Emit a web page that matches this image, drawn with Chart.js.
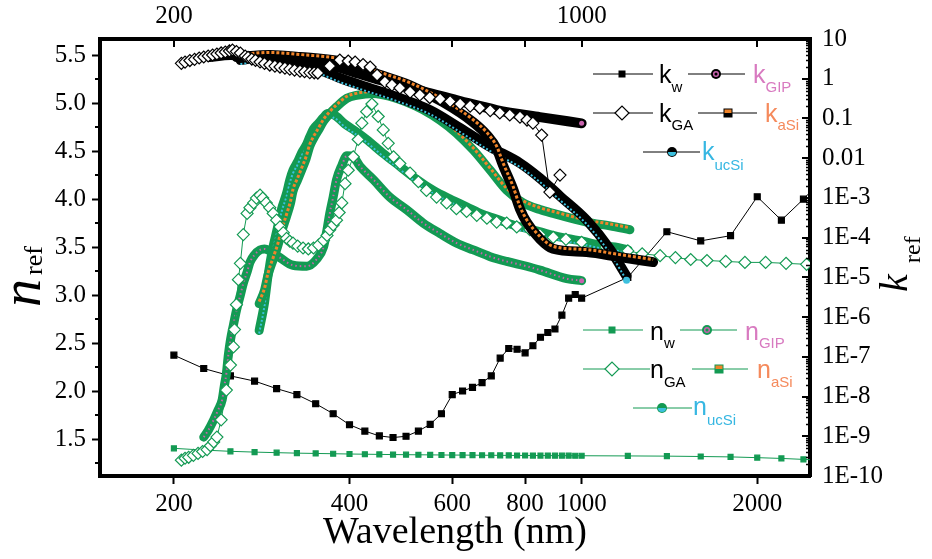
<!DOCTYPE html>
<html>
<head>
<meta charset="utf-8">
<script src="https://cdn.jsdelivr.net/npm/chart.js@4.4.1/dist/chart.umd.min.js"></script>
<style>
  html, body { margin: 0; padding: 0; background: #fff; }
</style>
</head>
<body>
<canvas id="chart" width="932" height="559"></canvas>
<script>
// refractive index n (left) and extinction coefficient k (right, log) vs wavelength

// water: tabulated every 25 nm up to 1000, then every 200 nm
const wlWater = [200, 225, 250, 275, 300, 325, 350, 375, 400, 425, 450, 475, 500, 525, 550, 575, 600,
  625, 650, 675, 700, 725, 750, 775, 800, 825, 850, 875, 900, 925, 950, 975, 1000,
  1200, 1400, 1600, 1800, 2000, 2200, 2400, 2500];
const nWater = [1.403, 1.385, 1.372, 1.364, 1.358, 1.353, 1.350, 1.347, 1.344, 1.342, 1.340, 1.338, 1.337,
  1.336, 1.335, 1.334, 1.333, 1.333, 1.332, 1.331, 1.331, 1.330, 1.330, 1.329, 1.329, 1.328, 1.328,
  1.328, 1.327, 1.327, 1.327, 1.326, 1.326, 1.324, 1.322, 1.318, 1.314, 1.306, 1.298, 1.288, 1.283];
const kWater = [1.10e-7, 5.07e-8, 3.31e-8, 2.45e-8, 1.58e-8, 1.12e-8, 6.6e-9, 3.7e-9, 1.95e-9, 1.35e-9,
  1.02e-9, 9.3e-10, 1.0e-9, 1.35e-9, 2.0e-9, 3.7e-9, 1.12e-8, 1.38e-8, 1.7e-8, 2.24e-8, 3.31e-8,
  9.3e-8, 1.62e-7, 1.55e-7, 1.26e-7, 1.9e-7, 3.1e-7, 4.1e-7, 5.0e-7, 1.12e-6, 3.0e-6, 3.7e-6, 3.0e-6,
  1.0e-5, 1.41e-4, 8.3e-5, 1.12e-4, 1.07e-3, 2.75e-4, 9.3e-4, 1.74e-3];

// glass (GA)
const wlGAn = [206, 209, 212, 216, 220, 224, 228, 231, 234, 237, 241, 246, 250, 253, 254, 256, 258, 260,
  263, 267, 270, 274, 277, 281, 284, 288, 292, 296, 300, 304, 308, 312, 316, 320, 326, 333, 340, 347,
  354, 361, 366, 370, 375, 380, 384, 388, 393, 398, 406, 414, 420, 428, 437, 448, 457, 466, 476, 488,
  508, 525, 542, 564, 587, 610, 635, 661, 688, 715, 744, 774, 815, 848, 894, 940, 1000, 1100, 1200,
  1270, 1363, 1448, 1538, 1640, 1766, 1905, 2067, 2241, 2430];
const nGA = [1.28, 1.30, 1.31, 1.33, 1.35, 1.37, 1.39, 1.43, 1.47, 1.52, 1.70, 2.01, 2.27, 2.46, 2.64,
  2.90, 3.16, 3.33, 3.63, 3.85, 3.91, 3.96, 4.01, 4.04, 4.01, 3.96, 3.91, 3.85, 3.78, 3.71, 3.65, 3.59,
  3.56, 3.54, 3.51, 3.49, 3.48, 3.49, 3.52, 3.57, 3.62, 3.68, 3.73, 3.78, 3.86, 3.96, 4.16, 4.30, 4.44,
  4.62, 4.79, 4.91, 4.99, 4.86, 4.72, 4.58, 4.44, 4.37, 4.27, 4.18, 4.09, 4.02, 3.96, 3.90, 3.87, 3.83,
  3.80, 3.76, 3.75, 3.71, 3.68, 3.63, 3.60, 3.58, 3.55, 3.50, 3.46, 3.43, 3.41, 3.39, 3.37, 3.36, 3.35,
  3.34, 3.34, 3.33, 3.32];
const wlGAk = [206, 209, 213, 217, 221, 225, 229, 233, 237, 241, 245, 249, 252, 256, 260, 265, 268, 272,
  276, 281, 286, 292, 298, 304, 310, 316, 322, 329, 335, 342, 348, 353, 370, 385, 398, 409, 422, 434,
  446, 460, 473, 488, 508, 528, 549, 572, 595, 619, 644, 669, 697, 724, 753, 784, 806, 825, 854, 882, 918];
const kGA = [2.44, 2.62, 2.87, 3.08, 3.32, 3.52, 3.73, 3.95, 4.19, 4.45, 4.71, 5.0, 5.28, 4.85, 4.44,
  3.73, 3.45, 3.13, 2.90, 2.64, 2.42, 2.21, 2.08, 1.97, 1.85, 1.75, 1.65, 1.56, 1.50, 1.43, 1.41, 1.39,
  2.09, 2.96, 2.79, 2.64, 2.28, 1.97, 1.24, 0.826, 0.693, 0.583, 0.462, 0.389, 0.336, 0.308, 0.267,
  0.231, 0.205, 0.183, 0.158, 0.137, 0.122, 0.108, 0.0912, 0.0766, 0.0382, 0.0014, 0.00375];

// GIP
const wlGIPn = [225, 229, 234, 238, 242, 244, 246, 248, 250, 253, 256, 260, 263, 267, 270, 275, 281, 286,
  292, 304, 320, 338, 351, 361, 366, 370, 375, 380, 388, 396, 406, 417, 440, 469, 501, 535, 572, 611,
  652, 697, 744, 805, 848, 943, 1000];
const nGIP = [1.52, 1.59, 1.70, 1.80, 1.91, 2.05, 2.18, 2.38, 2.53, 2.69, 2.84, 3.00, 3.12, 3.24, 3.34,
  3.42, 3.47, 3.48, 3.46, 3.39, 3.31, 3.30, 3.37, 3.50, 3.68, 3.85, 4.02, 4.20, 4.35, 4.45, 4.44, 4.34,
  4.20, 4.02, 3.89, 3.75, 3.64, 3.54, 3.47, 3.40, 3.35, 3.30, 3.26, 3.17, 3.15];
const wlGIPk = [230, 250, 277, 312, 356, 380, 417, 451, 498, 549, 619, 715, 848, 1000];
const kGIP = [3.52, 3.95, 3.52, 2.96, 2.48, 1.97, 1.31, 0.927, 0.618, 0.437, 0.274, 0.163, 0.108, 0.0753];

// amorphous Si
const wlASin = [280, 286, 290, 296, 301, 306, 312, 317, 320, 326, 331, 337, 342, 347, 354, 361, 370, 380,
  396, 411, 440, 469, 501, 535, 572, 609, 652, 697, 744, 794, 848, 894, 1020, 1118, 1210];
const nASi = [2.91, 3.05, 3.21, 3.37, 3.50, 3.66, 3.82, 3.96, 4.08, 4.20, 4.30, 4.42, 4.55, 4.63, 4.72,
  4.81, 4.89, 4.96, 5.05, 5.08, 5.10, 5.07, 5.01, 4.93, 4.82, 4.69, 4.51, 4.30, 4.09, 3.96, 3.89, 3.85,
  3.76, 3.72, 3.68];
const wlASik = [256, 292, 329, 390, 445, 508, 578, 651, 688, 715, 733, 763, 784, 805, 848, 893, 1020, 1163, 1326];
const kASi = [3.52, 3.95, 3.52, 2.64, 1.34, 0.682, 0.259, 0.0813, 0.0382, 0.0173, 0.0067, 0.00167,
  5.22e-4, 2.45e-4, 9.3e-5, 5.25e-5, 4.32e-5, 3.23e-5, 2.42e-5];

// microcrystalline Si
const wlUcSin = [280, 286, 290, 295, 301, 306, 312, 316, 320, 326, 331, 337, 342, 347, 354, 361, 367, 378,
  393, 409, 428, 456, 488, 520, 557, 595, 635, 677, 724, 772, 825, 882, 943, 1005, 1075, 1140, 1202];
const nUcSi = [2.63, 2.92, 3.20, 3.47, 3.70, 3.90, 4.06, 4.20, 4.30, 4.39, 4.48, 4.56, 4.65, 4.73, 4.79,
  4.85, 4.89, 4.87, 4.78, 4.71, 4.62, 4.48, 4.34, 4.21, 4.09, 4.00, 3.92, 3.84, 3.78, 3.72, 3.68, 3.63,
  3.59, 3.56, 3.52, 3.50, 3.47];
const wlUcSik = [260, 277, 312, 356, 385, 422, 482, 549, 619, 697, 784, 848, 918, 1020, 1118, 1194];
const kUcSi = [2.96, 3.32, 2.64, 1.66, 1.04, 0.655, 0.346, 0.163, 0.0573, 0.0191, 0.00753, 0.00316,
  0.00111, 2.76e-4, 5.13e-5, 1.07e-5];

// axes
const wlMin = 149.4;
const wlMax = 2463;
const wlTicks = [200, 400, 600, 800, 1000, 2000];
const wlTopLabels = [200, 1000];
const nTicks = [1.5, 2.0, 2.5, 3.0, 3.5, 4.0, 4.5, 5.0, 5.5];
const nMinorTicks = [1.25, 1.75, 2.25, 2.75, 3.25, 3.75, 4.25, 4.75, 5.25];
const kTicks = [1e-10, 1e-9, 1e-8, 1e-7, 1e-6, 1e-5, 1e-4, 1e-3, 0.01, 0.1, 1, 10];

const GREEN = '#139a53';
const ORANGE = '#f0842a';
const CYAN = '#3cc0de';
const PINK = '#c862ad';
const SERIF = '"Liberation Serif", "Times New Roman", serif';
const SANS = '"Liberation Sans", Arial, sans-serif';

const pts = (wl, vals) => wl.map((w, i) => ({ x: w, y: vals[i] }));

// thick line standing in for densely packed markers
function band(wl, vals, axis, color, width, order) {
  return {
    data: pts(wl, vals), yAxisID: axis, borderColor: color, borderWidth: width,
    pointRadius: 0, cubicInterpolationMode: 'monotone',
    borderCapStyle: 'round', borderJoinStyle: 'round', fill: false, order
  };
}

// coloured marker centres running along a band
function stripe(wl, vals, axis, color, width, dash, shiftY, order, endRadius) {
  const last = wl.length - 1;
  return {
    data: pts(wl, vals), yAxisID: axis, borderColor: color, borderWidth: width, borderDash: dash,
    cubicInterpolationMode: 'monotone', fill: false, order, shiftY,
    pointRadius: c => (c.dataIndex === last ? endRadius : 0),
    pointBackgroundColor: color, pointBorderColor: color, pointBorderWidth: 0
  };
}

function marked(wl, vals, axis, color, style, radius, fillColor, order) {
  return {
    data: pts(wl, vals), yAxisID: axis, borderColor: color, borderWidth: 1,
    pointStyle: style, pointRadius: radius, pointBackgroundColor: fillColor,
    pointBorderColor: color, pointBorderWidth: 1.2, tension: 0, fill: false, order
  };
}

const datasets = [
  marked(wlGAk, kGA, 'y2', '#000', 'rectRot', 6, '#fff', 1),
  stripe(wlASik, kASi, 'y2', ORANGE, 3, [3, 2], -2.5, 2, 0),
  band(wlASik, kASi, 'y2', '#000', 10, 3),
  stripe(wlGIPk, kGIP, 'y2', PINK, 0, [], 0, 4, 2.5),
  band(wlGIPk, kGIP, 'y2', '#000', 10, 5),
  stripe(wlUcSik, kUcSi, 'y2', CYAN, 2, [2, 2], 4, 6, 3.5),
  band(wlUcSik, kUcSi, 'y2', '#000', 10, 7),
  marked(wlGAn, nGA, 'y', GREEN, 'rectRot', 6, '#fff', 8),
  stripe(wlASin, nASi, 'y', ORANGE, 3, [3, 2], -2, 9, 0),
  band(wlASin, nASi, 'y', GREEN, 9, 10),
  stripe(wlUcSin, nUcSi, 'y', CYAN, 2, [2, 2], 3, 11, 0),
  band(wlUcSin, nUcSi, 'y', GREEN, 9, 12),
  stripe(wlGIPn, nGIP, 'y', PINK, 2, [1.5, 3], 0, 13, 2.5),
  band(wlGIPn, nGIP, 'y', GREEN, 9, 14),
  marked(wlWater, kWater, 'y2', '#000', 'rect', 4.2, '#000', 15),
  marked(wlWater, nWater, 'y', GREEN, 'rect', 3.5, GREEN, 16)
];

const tickFont = { family: SERIF, size: 25 };
const border = { color: '#000', width: 4 };
const useTicks = values => axis => { axis.ticks = values.map(v => ({ value: v })); };

function kLabel(v) {
  if (v >= 0.01) return String(v);
  return '1E' + Math.round(Math.log10(v));
}

function drawMarker(ctx, kind, x, y, edge, accent) {
  ctx.save();
  ctx.lineWidth = 1.2;
  if (kind === 'square') {
    ctx.fillStyle = edge;
    ctx.fillRect(x - 3.5, y - 3.5, 7, 7);
  } else if (kind === 'diamond') {
    ctx.beginPath();
    ctx.moveTo(x - 7, y); ctx.lineTo(x, y - 7); ctx.lineTo(x + 7, y); ctx.lineTo(x, y + 7);
    ctx.closePath();
    ctx.fillStyle = '#fff'; ctx.fill();
    ctx.strokeStyle = edge; ctx.stroke();
  } else if (kind === 'ring') {
    ctx.beginPath(); ctx.arc(x, y, 5, 0, Math.PI * 2);
    ctx.fillStyle = edge; ctx.fill();
    ctx.beginPath(); ctx.arc(x, y, 2.3, 0, Math.PI * 2);
    ctx.strokeStyle = accent; ctx.lineWidth = 1.5; ctx.stroke();
  } else if (kind === 'halfSquare') {
    ctx.fillStyle = edge; ctx.fillRect(x - 4.5, y - 4.5, 9, 9);
    ctx.fillStyle = accent; ctx.fillRect(x - 3.5, y - 3.5, 7, 3.5);
  } else if (kind === 'halfCircle') {
    ctx.beginPath(); ctx.arc(x, y, 5, 0, Math.PI * 2);
    ctx.fillStyle = edge; ctx.fill();
    ctx.beginPath(); ctx.arc(x, y, 4, 0, Math.PI); ctx.closePath();
    ctx.fillStyle = accent; ctx.fill();
  }
  ctx.restore();
}

function legendEntry(ctx, x1, x2, y, lineColor, kind, mx, edge, accent, main, sub, tx, base, drop, textColor) {
  ctx.save();
  ctx.strokeStyle = lineColor; ctx.lineWidth = 1;
  ctx.beginPath(); ctx.moveTo(x1, y); ctx.lineTo(x2, y); ctx.stroke();
  drawMarker(ctx, kind, mx, y, edge, accent);
  ctx.fillStyle = textColor;
  ctx.textAlign = 'left'; ctx.textBaseline = 'alphabetic';
  ctx.font = '25px ' + SANS;
  ctx.fillText(main, tx, base);
  const w = ctx.measureText(main).width;
  ctx.font = '15px ' + SANS;
  ctx.fillText(sub, tx + w, base + drop);
  ctx.restore();
}

const decorations = {
  id: 'decorations',
  beforeDatasetDraw(chart, args) {
    const ds = chart.data.datasets[args.index];
    if (ds.shiftY) { chart.ctx.save(); chart.ctx.translate(0, ds.shiftY); }
  },
  afterDatasetDraw(chart, args) {
    const ds = chart.data.datasets[args.index];
    if (ds.shiftY) chart.ctx.restore();
  },
  afterDraw(chart) {
    const ctx = chart.ctx;
    const area = chart.chartArea;
    const { y, y2, x2 } = chart.scales;
    ctx.save();
    ctx.strokeStyle = '#000';
    ctx.lineWidth = 2;
    ctx.beginPath();
    nMinorTicks.forEach(v => {
      const py = Math.round(y.getPixelForValue(v));
      ctx.moveTo(area.left, py); ctx.lineTo(area.left - 5, py);
    });
    wlTicks.forEach(v => {
      const px = Math.round(x2.getPixelForValue(v));
      ctx.moveTo(px, area.top); ctx.lineTo(px, area.top + 8);
    });
    for (let e = -10; e <= 1; e++) {
      const py = Math.round(y2.getPixelForValue(Math.pow(10, e)));
      ctx.moveTo(area.right, py); ctx.lineTo(area.right - 8, py);
    }
    ctx.stroke();
    ctx.lineWidth = 1.5;
    ctx.beginPath();
    for (let e = -10; e <= 0; e++) {
      for (let m = 2; m <= 9; m++) {
        const py = Math.round(y2.getPixelForValue(m * Math.pow(10, e))) + 0.5;
        ctx.moveTo(area.right, py); ctx.lineTo(area.right - 4, py);
      }
    }
    ctx.stroke();

    // axis titles
    ctx.fillStyle = '#000';
    ctx.textBaseline = 'alphabetic';
    ctx.textAlign = 'left';
    ctx.save();
    ctx.translate(40, 307);
    ctx.rotate(-Math.PI / 2);
    ctx.font = 'italic 56px ' + SERIF;
    ctx.fillText('n', 0, 0);
    ctx.font = '26px ' + SERIF;
    ctx.fillText('ref', 32, 2);
    ctx.restore();
    ctx.save();
    ctx.translate(907, 292);
    ctx.rotate(-Math.PI / 2);
    ctx.font = 'italic 40px ' + SERIF;
    ctx.fillText('k', 0, 0);
    ctx.font = '24px ' + SERIF;
    ctx.fillText('ref', 29, 13);
    ctx.restore();

    // legend, k group
    legendEntry(ctx, 593, 653, 74, '#000', 'square', 622, '#000', '#000', 'k', 'w', 659, 83, 9, '#000');
    legendEntry(ctx, 688, 745, 74, '#000', 'ring', 716, '#000', PINK, 'k', 'GIP', 753, 83, 9, '#d87ac0');
    legendEntry(ctx, 593, 653, 113, '#000', 'diamond', 622, '#000', '#000', 'k', 'GA', 659, 122, 8, '#000');
    legendEntry(ctx, 698, 757, 113, '#000', 'halfSquare', 728, '#000', ORANGE, 'k', 'aSi', 765, 122, 8, '#f58a5c');
    legendEntry(ctx, 643, 700, 152, '#000', 'halfCircle', 672, '#000', CYAN, 'k', 'ucSi', 702, 160, 10, '#36b7e2');
    // legend, n group
    legendEntry(ctx, 583, 643, 330, GREEN, 'square', 612, GREEN, GREEN, 'n', 'w', 650, 340, 8, '#000');
    legendEntry(ctx, 680, 737, 330, GREEN, 'ring', 707, GREEN, PINK, 'n', 'GIP', 745, 340, 8, '#d87ac0');
    legendEntry(ctx, 583, 650, 369, GREEN, 'diamond', 612, GREEN, GREEN, 'n', 'GA', 650, 378, 9, '#000');
    legendEntry(ctx, 692, 748, 369, GREEN, 'halfSquare', 719, GREEN, ORANGE, 'n', 'aSi', 757, 378, 9, '#f58a5c');
    legendEntry(ctx, 633, 692, 408, GREEN, 'halfCircle', 662, GREEN, CYAN, 'n', 'ucSi', 693, 415, 10, '#36b7e2');
    ctx.restore();
  }
};

new Chart(document.getElementById('chart'), { // eslint-disable-line
  type: 'line',
  data: { datasets },
  options: {
    responsive: false,
    animation: false,
    devicePixelRatio: 1,
    events: [],
    layout: { padding: 0 },
    plugins: { legend: { display: false }, tooltip: { enabled: false } },
    scales: {
      x: {
        type: 'logarithmic', position: 'bottom', min: wlMin, max: wlMax,
        afterBuildTicks: useTicks(wlTicks),
        afterFit: axis => { axis.height = 83; },
        ticks: { callback: v => String(v), autoSkip: false, maxRotation: 0, padding: 5, color: '#000', font: tickFont },
        grid: { drawOnChartArea: false, tickLength: 8, tickWidth: 2, tickColor: '#000' },
        border,
        title: { display: true, text: 'Wavelength (nm)', color: '#000', font: { family: SERIF, size: 38 }, padding: { top: 0, bottom: 3 } }
      },
      x2: {
        type: 'logarithmic', position: 'top', min: wlMin, max: wlMax,
        afterBuildTicks: useTicks(wlTicks),
        afterFit: axis => { axis.height = 39; },
        ticks: { callback: v => (wlTopLabels.includes(v) ? String(v) : ''), autoSkip: false, maxRotation: 0, padding: 8, color: '#000', font: tickFont },
        grid: { drawOnChartArea: false, drawTicks: false },
        border
      },
      y: {
        type: 'linear', position: 'left', min: 1.115, max: 5.667,
        afterBuildTicks: useTicks(nTicks),
        afterFit: axis => { axis.width = 100; },
        ticks: { callback: v => v.toFixed(1), padding: 6, color: '#000', font: tickFont },
        grid: { drawOnChartArea: false, tickLength: 8, tickWidth: 2, tickColor: '#000' },
        border
      },
      y2: {
        type: 'logarithmic', position: 'right', min: 1e-10, max: 10,
        afterBuildTicks: useTicks(kTicks),
        afterFit: axis => { axis.width = 122; },
        ticks: { callback: kLabel, autoSkip: false, padding: 12, color: '#000', font: tickFont },
        grid: { drawOnChartArea: false, drawTicks: false },
        border
      }
    }
  },
  plugins: [decorations]
});
</script>
</body>
</html>
